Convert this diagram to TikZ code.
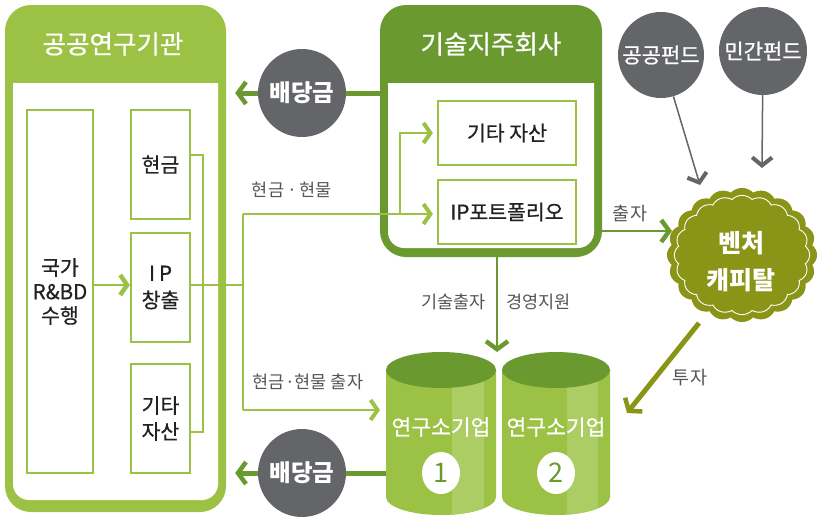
\documentclass[tikz,border=0pt]{standalone}
\usepackage{fontspec}
\setmainfont{Noto Sans CJK KR}
\newfontfamily\medf{Noto Sans CJK KR}[FakeBold=0.7]
\usetikzlibrary{arrows.meta,shapes.geometric}
\definecolor{lg}{HTML}{9BC244}
\definecolor{dg}{HTML}{6A9A2F}
\definecolor{gr}{HTML}{646568}
\definecolor{ol}{HTML}{8A9416}
\definecolor{lbl}{HTML}{555555}
\definecolor{hl}{HTML}{ABCD63}
\definecolor{txt}{HTML}{222222}
\tikzset{
  chevL/.tip={Straight Barb[length=7pt,width=20pt,line width=4pt]},
  chevD/.tip={Straight Barb[length=8pt,width=22pt,line width=4.5pt]},
  chevG/.tip={Straight Barb[length=8pt,width=20pt,line width=4pt]},
  bigbox/.style={rounded corners=26pt, inner sep=0pt},
  inbox/.style={draw=lg, line width=2.2pt, fill=white, inner sep=0pt, align=center, text=txt, font=\medf\fontsize{20.5}{24}\selectfont},
  tbox/.style={draw=lg, line width=2.2pt, fill=white, inner sep=0pt, text=txt, font=\medf\fontsize{20.5}{22}\selectfont, minimum width=138pt, minimum height=64pt},
  conn/.style={draw=lg, line width=1.4pt},
  head/.style={text=white, font=\medf\fontsize{25.5}{28}\selectfont},
  gcirc/.style={circle, fill=gr, inner sep=0pt, text=white},
  lab/.style={text=lbl, font=\fontsize{17.5}{20}\selectfont},
  cyltext/.style={text=white, font=\medf\fontsize{21.5}{24}\selectfont},
  numb/.style={ellipse, fill=white, minimum width=38pt, minimum height=42pt, inner sep=0pt, text=dg, font=\fontsize{27}{28}\selectfont},
}
\begin{document}
\begin{tikzpicture}[x=1pt,y=-1pt]
\useasboundingbox (0,0) rectangle (819,517);

% ---- public research institute
\node[bigbox, fill=lg, minimum width=221pt, minimum height=507pt] (pri) at (115.5,258.5) {};
\fill[white] (13,83) -- (218,83) [rounded corners=16pt] -- (218,500) -- (13,500) [sharp corners] -- (13,83) -- cycle;
\node[head] (prih) at (113,44) {공공연구기관};
\node[inbox, minimum width=66pt, minimum height=363pt] (rbd) at (60,291.5) {국가\\R\&BD\\수행};
\node[inbox, minimum width=59pt, minimum height=109pt] (cash) at (160.5,164.5) {현금};
\node[inbox, minimum width=59pt, minimum height=109pt, font=\medf\fontsize{20.5}{27}\selectfont] (ipc) at (160.5,287.5) {I\kern4pt P\\창출};
\node[inbox, minimum width=59pt, minimum height=109pt, font=\medf\fontsize{20.5}{26}\selectfont] (etcL) at (160.5,418.5) {기타\\자산};
\draw[conn, -{Straight Barb[length=7pt,width=20pt,line width=4.5pt]}] (rbd.east |- 0,285) -- (ipc.west |- 0,285);

% ---- tech holding company
\node[bigbox, fill=dg, minimum width=222pt, minimum height=252pt] (tech) at (491,131) {};
\fill[white] (388,83) -- (594,83) [rounded corners=16pt] -- (594,248) -- (388,248) [sharp corners] -- (388,83) -- cycle;
\node[head] (techh) at (491,44) {기술지주회사};
\node[tbox] (etcT) at (507,133) {기타 자산};
\node[tbox] (ipp) at (507,212) {IP포트폴리오};

% ---- connectors from IP creation
\coordinate (b1) at (203,155);
\coordinate (b2) at (203,432);
\coordinate (j0) at (243,285);
\coordinate (j1) at (243,214);
\coordinate (j2) at (243,410);
\coordinate (j3) at (400,214);
\coordinate (c1in) at (380,410);
\draw[conn] ([yshift=9.5pt]cash.east) -- (b1) -- (b2) -- ([yshift=-13.5pt]etcL.east);
\draw[conn] (ipc.east |- j0) -- (j0);
\draw[conn] (j1) -- (j2);
\draw[conn, -chevL] (j1) -- ([xshift=-4pt]ipp.west |- j1);
\draw[conn, -chevL] (j3) |- ([xshift=-4pt]etcT.west);
\draw[conn, -chevL] (j2) -- (c1in);
\node[lab] (l1) at (292,190) {현금\,·\,현물};
\node[lab] (l2) at (308,382) {현금·현물 출자};

% ---- cylinders
\begin{scope}
\path[clip] (386,370) -- (386,497) arc[start angle=180,end angle=360,x radius=55pt,y radius=18pt] -- (496,370) -- cycle;
\fill[lg] (380,340) rectangle (500,520);
\fill[hl] (452,340) rectangle (484,520);
\end{scope}
\fill[dg] (441,370) ellipse[x radius=55pt, y radius=18pt];
\begin{scope}
\path[clip] (502,370) -- (502,497) arc[start angle=180,end angle=360,x radius=54pt,y radius=18pt] -- (610,370) -- cycle;
\fill[lg] (498,340) rectangle (615,520);
\fill[hl] (567,340) rectangle (598,520);
\end{scope}
\fill[dg] (556,370) ellipse[x radius=54pt, y radius=18pt];
\node[cyltext] (cy1) at (441,427) {연구소기업};
\node[cyltext] (cy2) at (556,427) {연구소기업};
\node[numb] (n1) at (441,473) {1};
\node[numb] (n2) at (556,473) {2};
\coordinate (c1top) at (497,352);
\coordinate (c1left) at (386,473);
\coordinate (c2tr) at (627,413);

% ---- tech -> cylinder
\draw[dg, line width=2.5pt, -chevD] (tech.south -| 497,0) -- (c1top);
\node[lab, anchor=east] (l3) at (489,302) {기술출자};
\node[lab, anchor=west] (l4) at (503,302) {경영지원};

% ---- dividends
\draw[dg, line width=5pt, -chevD, shorten >=9pt] (tech.west |- 0,93) -- (pri.east |- 0,93);
\node[gcirc, minimum size=88pt, font=\bfseries\fontsize{23.5}{26}\selectfont] (div1) at (302,93) {배당금};
\draw[dg, line width=5pt, -chevD, shorten >=9pt] (c1left) -- (pri.east |- c1left);
\node[gcirc, minimum size=88pt, font=\bfseries\fontsize{23.5}{26}\selectfont] (div2) at (302,473) {배당금};

% ---- venture capital gear
\fill[ol, shift={(742,255)}] plot[domain=0:360, samples=1081] ({(71+4*(abs(cos(10*\x)))^0.8)*cos(\x)},{(63+4*(abs(cos(10*\x)))^0.8)*sin(\x)}) -- cycle;
\draw[white, line width=0.9pt, shift={(742,255)}] plot[domain=0:360, samples=1081] ({(64+3.6*(abs(cos(10*\x)))^0.8)*cos(\x)},{(56+3.6*(abs(cos(10*\x)))^0.8)*sin(\x)}) -- cycle;
\node[text=white, align=center, font=\bfseries\fontsize{25}{37}\selectfont] (vc) at (741,262) {벤처\\캐피탈};
\coordinate (vcin) at (672,231);
\coordinate (vcpub) at (700,185);
\coordinate (vcpri) at (762,168);
\coordinate (vcout) at (699,323);

% ---- funds
\node[gcirc, minimum size=86pt, font=\medf\fontsize{21}{24}\selectfont] (pub) at (661,55) {공공펀드};
\node[gcirc, minimum size=88pt, font=\medf\fontsize{21}{24}\selectfont] (priv) at (763,51) {민간펀드};
\draw[gr, line width=1.5pt, -chevG] (pub) -- (vcpub);
\draw[gr, line width=1.5pt, -chevG] (priv) -- (vcpri);

% ---- tech -> VC, VC -> cylinder
\draw[dg, line width=2pt, -chevD] (tech.east |- vcin) -- (vcin);
\node[lab, font=\fontsize{18.5}{20}\selectfont] (l5) at (630,214) {출자};
\draw[ol, line width=5pt, -chevD] (vcout) -- (c2tr);
\node[lab, font=\fontsize{18.5}{20}\selectfont] (l6) at (690,378) {투자};
\end{tikzpicture}
\end{document}
